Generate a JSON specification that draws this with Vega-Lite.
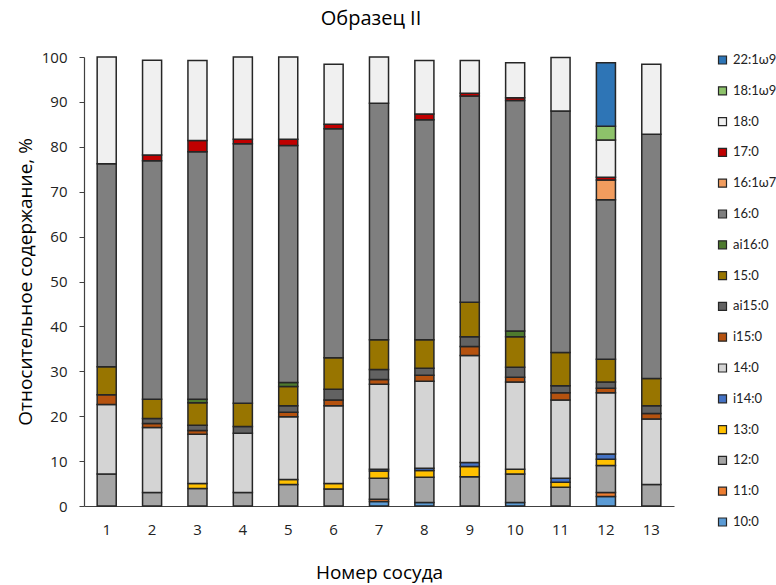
{
  "$schema": "https://vega.github.io/schema/vega-lite/v6.json",
  "width": 590,
  "height": 449,
  "autosize": "none",
  "padding": {"left": 84, "top": 57, "right": 102, "bottom": 79},
  "background": "white",
  "title": {"text": "Образец II", "font": "Open Sans", "fontSize": 20, "fontWeight": "normal", "color": "#000000", "anchor": "middle", "dx": -8, "offset": 21},
  "config": {"view": {"stroke": null}, "font": "Open Sans"},
  "data": {"values": [
    {"vessel": 1, "acid": "12:0", "value": 7.1},
    {"vessel": 1, "acid": "14:0", "value": 15.5},
    {"vessel": 1, "acid": "i15:0", "value": 2.2},
    {"vessel": 1, "acid": "15:0", "value": 6.2},
    {"vessel": 1, "acid": "16:0", "value": 45.2},
    {"vessel": 1, "acid": "18:0", "value": 23.8},
    {"vessel": 2, "acid": "12:0", "value": 3.0},
    {"vessel": 2, "acid": "14:0", "value": 14.5},
    {"vessel": 2, "acid": "i15:0", "value": 0.9},
    {"vessel": 2, "acid": "ai15:0", "value": 1.1},
    {"vessel": 2, "acid": "15:0", "value": 4.3},
    {"vessel": 2, "acid": "16:0", "value": 53.1},
    {"vessel": 2, "acid": "17:0", "value": 1.3},
    {"vessel": 2, "acid": "18:0", "value": 21.1},
    {"vessel": 3, "acid": "12:0", "value": 3.9},
    {"vessel": 3, "acid": "13:0", "value": 1.1},
    {"vessel": 3, "acid": "14:0", "value": 11.0},
    {"vessel": 3, "acid": "i15:0", "value": 0.8},
    {"vessel": 3, "acid": "ai15:0", "value": 1.2},
    {"vessel": 3, "acid": "15:0", "value": 5.0},
    {"vessel": 3, "acid": "ai16:0", "value": 0.8},
    {"vessel": 3, "acid": "16:0", "value": 55.1},
    {"vessel": 3, "acid": "17:0", "value": 2.5},
    {"vessel": 3, "acid": "18:0", "value": 17.8},
    {"vessel": 4, "acid": "12:0", "value": 3.0},
    {"vessel": 4, "acid": "14:0", "value": 13.2},
    {"vessel": 4, "acid": "ai15:0", "value": 1.5},
    {"vessel": 4, "acid": "15:0", "value": 5.2},
    {"vessel": 4, "acid": "16:0", "value": 57.8},
    {"vessel": 4, "acid": "17:0", "value": 1.0},
    {"vessel": 4, "acid": "18:0", "value": 18.3},
    {"vessel": 5, "acid": "12:0", "value": 4.8},
    {"vessel": 5, "acid": "13:0", "value": 1.1},
    {"vessel": 5, "acid": "14:0", "value": 14.0},
    {"vessel": 5, "acid": "i15:0", "value": 1.0},
    {"vessel": 5, "acid": "ai15:0", "value": 1.4},
    {"vessel": 5, "acid": "15:0", "value": 4.3},
    {"vessel": 5, "acid": "ai16:0", "value": 0.9},
    {"vessel": 5, "acid": "16:0", "value": 52.8},
    {"vessel": 5, "acid": "17:0", "value": 1.4},
    {"vessel": 5, "acid": "18:0", "value": 18.3},
    {"vessel": 6, "acid": "12:0", "value": 3.8},
    {"vessel": 6, "acid": "13:0", "value": 1.2},
    {"vessel": 6, "acid": "14:0", "value": 17.3},
    {"vessel": 6, "acid": "i15:0", "value": 1.3},
    {"vessel": 6, "acid": "ai15:0", "value": 2.4},
    {"vessel": 6, "acid": "15:0", "value": 7.0},
    {"vessel": 6, "acid": "16:0", "value": 51.0},
    {"vessel": 6, "acid": "17:0", "value": 1.0},
    {"vessel": 6, "acid": "18:0", "value": 13.4},
    {"vessel": 7, "acid": "10:0", "value": 1.0},
    {"vessel": 7, "acid": "11:0", "value": 0.5},
    {"vessel": 7, "acid": "12:0", "value": 4.7},
    {"vessel": 7, "acid": "13:0", "value": 1.6},
    {"vessel": 7, "acid": "i14:0", "value": 0.4},
    {"vessel": 7, "acid": "14:0", "value": 18.9},
    {"vessel": 7, "acid": "i15:0", "value": 1.1},
    {"vessel": 7, "acid": "ai15:0", "value": 2.2},
    {"vessel": 7, "acid": "15:0", "value": 6.6},
    {"vessel": 7, "acid": "16:0", "value": 52.7},
    {"vessel": 7, "acid": "18:0", "value": 10.3},
    {"vessel": 8, "acid": "10:0", "value": 0.8},
    {"vessel": 8, "acid": "12:0", "value": 5.6},
    {"vessel": 8, "acid": "13:0", "value": 1.5},
    {"vessel": 8, "acid": "i14:0", "value": 0.5},
    {"vessel": 8, "acid": "14:0", "value": 19.4},
    {"vessel": 8, "acid": "i15:0", "value": 1.3},
    {"vessel": 8, "acid": "ai15:0", "value": 1.6},
    {"vessel": 8, "acid": "15:0", "value": 6.3},
    {"vessel": 8, "acid": "16:0", "value": 49.0},
    {"vessel": 8, "acid": "17:0", "value": 1.3},
    {"vessel": 8, "acid": "18:0", "value": 11.9},
    {"vessel": 9, "acid": "12:0", "value": 6.5},
    {"vessel": 9, "acid": "13:0", "value": 2.3},
    {"vessel": 9, "acid": "i14:0", "value": 0.9},
    {"vessel": 9, "acid": "14:0", "value": 23.8},
    {"vessel": 9, "acid": "i15:0", "value": 2.0},
    {"vessel": 9, "acid": "ai15:0", "value": 2.2},
    {"vessel": 9, "acid": "15:0", "value": 7.7},
    {"vessel": 9, "acid": "16:0", "value": 45.9},
    {"vessel": 9, "acid": "17:0", "value": 0.6},
    {"vessel": 9, "acid": "18:0", "value": 7.3},
    {"vessel": 10, "acid": "10:0", "value": 0.8},
    {"vessel": 10, "acid": "12:0", "value": 6.3},
    {"vessel": 10, "acid": "13:0", "value": 1.1},
    {"vessel": 10, "acid": "14:0", "value": 19.4},
    {"vessel": 10, "acid": "i15:0", "value": 1.1},
    {"vessel": 10, "acid": "ai15:0", "value": 2.2},
    {"vessel": 10, "acid": "15:0", "value": 6.8},
    {"vessel": 10, "acid": "ai16:0", "value": 1.3},
    {"vessel": 10, "acid": "16:0", "value": 51.3},
    {"vessel": 10, "acid": "17:0", "value": 0.6},
    {"vessel": 10, "acid": "18:0", "value": 7.8},
    {"vessel": 11, "acid": "12:0", "value": 4.2},
    {"vessel": 11, "acid": "13:0", "value": 1.1},
    {"vessel": 11, "acid": "i14:0", "value": 0.9},
    {"vessel": 11, "acid": "14:0", "value": 17.4},
    {"vessel": 11, "acid": "i15:0", "value": 1.6},
    {"vessel": 11, "acid": "ai15:0", "value": 1.6},
    {"vessel": 11, "acid": "15:0", "value": 7.4},
    {"vessel": 11, "acid": "16:0", "value": 53.8},
    {"vessel": 11, "acid": "18:0", "value": 11.9},
    {"vessel": 12, "acid": "10:0", "value": 2.1},
    {"vessel": 12, "acid": "11:0", "value": 0.9},
    {"vessel": 12, "acid": "12:0", "value": 6.0},
    {"vessel": 12, "acid": "13:0", "value": 1.4},
    {"vessel": 12, "acid": "i14:0", "value": 1.2},
    {"vessel": 12, "acid": "14:0", "value": 13.6},
    {"vessel": 12, "acid": "i15:0", "value": 1.0},
    {"vessel": 12, "acid": "ai15:0", "value": 1.4},
    {"vessel": 12, "acid": "15:0", "value": 5.1},
    {"vessel": 12, "acid": "16:0", "value": 35.5},
    {"vessel": 12, "acid": "16:1ω7", "value": 4.4},
    {"vessel": 12, "acid": "17:0", "value": 0.6},
    {"vessel": 12, "acid": "18:0", "value": 8.3},
    {"vessel": 12, "acid": "18:1ω9", "value": 3.1},
    {"vessel": 12, "acid": "22:1ω9", "value": 14.1},
    {"vessel": 13, "acid": "12:0", "value": 4.8},
    {"vessel": 13, "acid": "14:0", "value": 14.6},
    {"vessel": 13, "acid": "i15:0", "value": 1.2},
    {"vessel": 13, "acid": "ai15:0", "value": 1.7},
    {"vessel": 13, "acid": "15:0", "value": 6.1},
    {"vessel": 13, "acid": "16:0", "value": 54.4},
    {"vessel": 13, "acid": "18:0", "value": 15.6}
  ]},
  "transform": [
    {"calculate": "indexof(['10:0','11:0','12:0','13:0','i14:0','14:0','i15:0','ai15:0','15:0','ai16:0','16:0','16:1ω7','17:0','18:0','18:1ω9','22:1ω9'], datum.acid)", "as": "stackOrder"}
  ],
  "mark": {"type": "bar", "stroke": "#262626", "strokeWidth": 1.5},
  "encoding": {
    "x": {
      "field": "vessel", "type": "ordinal",
      "scale": {"paddingInner": 0.58, "paddingOuter": 0.29},
      "axis": {"title": "Номер сосуда", "titleFont": "Open Sans", "titleFontSize": 19, "titleFontWeight": "normal", "titleColor": "#000000", "titlePadding": 26,
               "labelAngle": 0, "labelFont": "Open Sans", "labelFontSize": 15, "labelColor": "#222222", "labelPadding": 16,
               "ticks": false, "domainColor": "#404040", "domainWidth": 1.2}
    },
    "y": {
      "field": "value", "type": "quantitative", "aggregate": "sum", "stack": "zero",
      "scale": {"domain": [0, 100], "nice": false},
      "axis": {"title": "Относительное содержание, %", "titleFont": "Open Sans", "titleFontSize": 19, "titleFontWeight": "normal", "titleColor": "#000000", "titlePadding": 6,
               "values": [0, 10, 20, 30, 40, 50, 60, 70, 80, 90, 100], "grid": false,
               "labelFont": "Open Sans", "labelFontSize": 15, "labelColor": "#222222", "labelPadding": 12,
               "tickSize": 5, "tickColor": "#404040", "domainColor": "#404040", "domainWidth": 1.2}
    },
    "color": {
      "field": "acid", "type": "nominal",
      "scale": {
        "domain": ["22:1ω9", "18:1ω9", "18:0", "17:0", "16:1ω7", "16:0", "ai16:0", "15:0", "ai15:0", "i15:0", "14:0", "i14:0", "13:0", "12:0", "11:0", "10:0"],
        "range": ["#2E75B6", "#8DC26A", "#F0F0F0", "#C00000", "#F19C5E", "#7F7F7F", "#4E7A2E", "#987500", "#626262", "#B5520F", "#D4D4D4", "#4472C4", "#FFC000", "#A5A5A5", "#ED7D31", "#5B9BD5"]
      },
      "legend": {"title": null, "orient": "none", "legendX": 632, "legendY": -3.5, "padding": 0,
                 "symbolType": "square", "symbolSize": 64, "symbolStrokeColor": "#262626", "symbolStrokeWidth": 1.2,
                 "labelFont": "Lato", "labelFontSize": 13, "labelColor": "#222222", "labelOffset": 4, "rowPadding": 16.8, "values": ["22:1ω9", "18:1ω9", "18:0", "17:0", "16:1ω7", "16:0", "ai16:0", "15:0", "ai15:0", "i15:0", "14:0", "i14:0", "13:0", "12:0", "11:0", "10:0"]}
    },
    "order": {"field": "stackOrder", "type": "quantitative", "sort": "ascending"}
  }
}
